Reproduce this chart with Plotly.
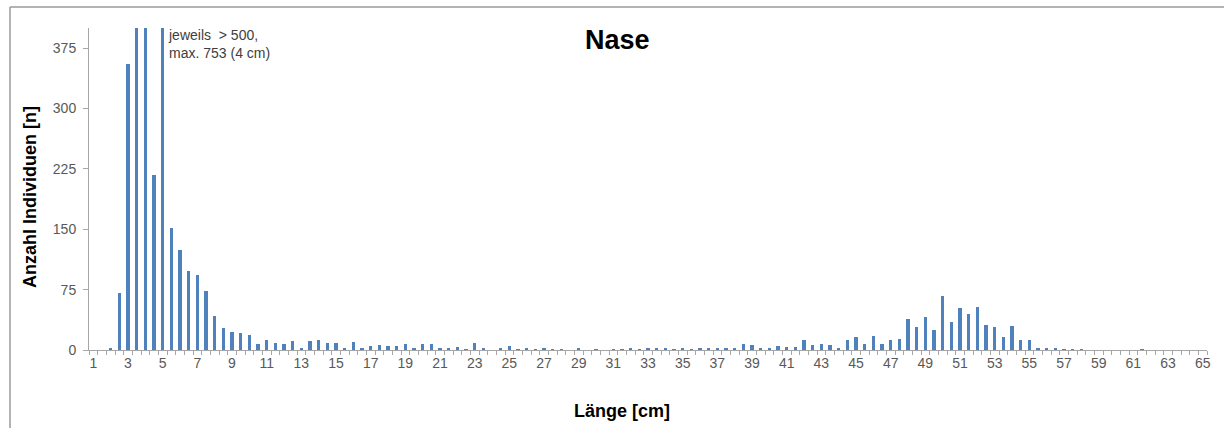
import plotly.graph_objects as go

# Length classes (cm), half-cm steps from 1 to 65
lengths = [1 + 0.5 * i for i in range(129)]

# Counts per length class
counts_1_to_10_5 = [0, 0, 3, 71, 355, 560, 753, 218, 540, 151, 124, 98, 93, 73, 42, 27, 22, 21, 19, 7]
counts_11_to_20_5 = [13, 9, 7, 11, 3, 11, 13, 9, 9, 3, 10, 3, 5, 6, 5, 5, 8, 2, 7, 7]
counts_21_to_30_5 = [3, 2, 4, 1, 9, 2, 0, 2, 5, 1, 3, 1, 3, 1, 1, 0, 2, 0, 1, 0]
counts_31_to_40_5 = [1, 1, 2, 1, 2, 3, 2, 1, 2, 1, 2, 2, 2, 3, 2, 8, 6, 3, 3, 5]
counts_41_to_50_5 = [4, 4, 12, 6, 8, 6, 2, 12, 16, 8, 17, 7, 12, 14, 38, 28, 41, 25, 67, 35]
counts_51_to_60_5 = [52, 45, 54, 31, 28, 16, 30, 12, 12, 2, 2, 2, 1, 1, 1, 0, 0, 0, 0, 0]
counts_61_to_65 = [0, 1, 0, 0, 0, 0, 0, 0, 0]

counts = (counts_1_to_10_5 + counts_11_to_20_5 + counts_21_to_30_5 + counts_31_to_40_5
          + counts_41_to_50_5 + counts_51_to_60_5 + counts_61_to_65)
assert len(counts) == len(lengths)

tick_values = list(range(1, 66, 2))
y_ticks = [0, 75, 150, 225, 300, 375]

FONT = "Liberation Sans, Arial, sans-serif"
GRID = "#A6A6A6"
TICKCOL = "#595959"

fig = go.Figure()
fig.add_trace(go.Bar(
    x=lengths, y=counts, width=0.19,
    marker=dict(color="#4F81BD", line=dict(width=0)),
    hoverinfo="x+y",
))

fig.update_layout(
    width=1224, height=428,
    margin=dict(l=89, r=17, t=28, b=78),
    paper_bgcolor="white", plot_bgcolor="white",
    showlegend=False,
    font=dict(family=FONT, size=14, color=TICKCOL),
    bargap=0,
)

fig.update_xaxes(
    range=[0.75, 65.25],
    tickmode="array", tickvals=tick_values, ticktext=[str(v) for v in tick_values],
    ticks="", showgrid=False, zeroline=False,
    showline=True, linecolor=GRID, linewidth=1,
    tickfont=dict(family=FONT, size=14, color=TICKCOL),
    minor=dict(tickmode="linear", tick0=0.75, dtick=0.5, ticks="outside",
               ticklen=4, tickcolor=GRID, tickwidth=1, showgrid=False),
)
fig.update_yaxes(
    range=[0, 400],
    tickmode="array", tickvals=y_ticks, ticktext=[str(v) for v in y_ticks],
    ticks="outside", ticklen=5, tickcolor=GRID, tickwidth=1,
    showgrid=False, zeroline=False,
    showline=True, linecolor=GRID, linewidth=1,
    tickfont=dict(family=FONT, size=14, color=TICKCOL),
    ticklabelstandoff=4,
)

# Titles
fig.add_annotation(text="<b>Nase</b>", xref="paper", yref="paper",
                   x=(617 - 89) / 1118, y=(350 - 40) / 322, showarrow=False,
                   xanchor="center", yanchor="middle",
                   font=dict(family=FONT, size=27, color="black"))
fig.add_annotation(text="<b>Anzahl Individuen [n]</b>", xref="paper", yref="paper",
                   x=(30 - 89) / 1118, y=(350 - 197) / 322, showarrow=False,
                   textangle=-90, xanchor="center", yanchor="middle",
                   font=dict(family=FONT, size=18, color="black"))
fig.add_annotation(text="<b>Länge [cm]</b>", xref="paper", yref="paper",
                   x=(622 - 89) / 1118, y=(350 - 411) / 322, showarrow=False,
                   xanchor="center", yanchor="middle",
                   font=dict(family=FONT, size=18, color="black"))
fig.add_annotation(text="jeweils  > 500,<br>max. 753 (4 cm)", xref="paper", yref="paper",
                   x=(166 - 89) / 1118, y=(350 - 25) / 322, showarrow=False,
                   xanchor="left", yanchor="top", align="left",
                   font=dict(family=FONT, size=14, color="#404040"))

# Outer chart frame (top and left edges visible)
fig.add_shape(type="line", xref="paper", yref="paper",
              x0=(10 - 89) / 1118, x1=(1224 - 89) / 1118,
              y0=(350 - 7) / 322, y1=(350 - 7) / 322,
              line=dict(color="#9A9A9A", width=1.5))
fig.add_shape(type="line", xref="paper", yref="paper",
              x0=(10 - 89) / 1118, x1=(10 - 89) / 1118,
              y0=(350 - 7) / 322, y1=(350 - 428) / 322,
              line=dict(color="#9A9A9A", width=1.5))

fig.write_html("out.html")
